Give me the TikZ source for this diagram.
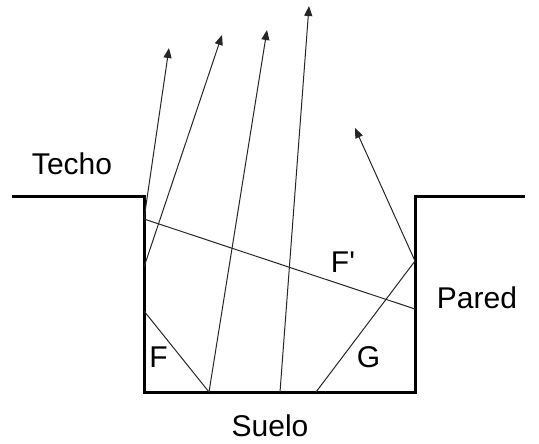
\documentclass[tikz,border=0pt]{standalone}
\usepackage{fontspec}
\setmainfont{Liberation Sans}
\usetikzlibrary{arrows.meta}

\begin{document}
\begin{tikzpicture}[x=0.5pt, y=-0.5pt,
    wall/.style={line width=1.5pt, line join=miter},
    ray/.style={black!85, line width=0.5pt},
    rayout/.style={ray, -{Triangle[length=5pt, width=4pt]}},
    lbl/.style={font=\fontsize{15pt}{18pt}\selectfont, anchor=base, inner sep=0pt}]
    \useasboundingbox (0,0) rectangle (539,443);

    % Outline of the cavity
    \draw[wall] (12,196) -- (144,196) -- (144,392) -- (415,392) -- (415,196) -- (525,196);

    % Points where the rays meet the walls
    \coordinate (wl1) at (144,219);
    \coordinate (wl2) at (144,267);
    \coordinate (wl3) at (144,311);
    \coordinate (wr1) at (415,261);
    \coordinate (wr2) at (415,309);
    \coordinate (fl1) at (209,392);
    \coordinate (fl2) at (280,392);
    \coordinate (fl3) at (316,392);

    % Arrow tips
    \coordinate (t1) at (169,48);
    \coordinate (t2) at (222,35);
    \coordinate (t3) at (267,30);
    \coordinate (t4) at (309,6);
    \coordinate (t5) at (355,128);

    % Rays
    \draw[ray] (wr2) -- (wl1);
    \draw[rayout] (wl1) -- (t1);
    \draw[rayout] (wl2) -- (t2);
    \draw[ray] (wl3) -- (fl1);
    \draw[rayout] (fl1) -- (t3);
    \draw[rayout] (fl2) -- (t4);
    \draw[ray] (fl3) -- (wr1);
    \draw[rayout] (wr1) -- (t5);

    % Labels
    \node[lbl] (techo) at (72,174) {Techo};
    \node[lbl] (pared) at (477,308) {Pared};
    \node[lbl] (suelo) at (270,436) {Suelo};
    \node[lbl] (f) at (158.5,367) {F};
    \node[lbl] (g) at (368.5,367) {G};
    \node[lbl] (fp) at (343,272) {F\textquotesingle};
\end{tikzpicture}
\end{document}
